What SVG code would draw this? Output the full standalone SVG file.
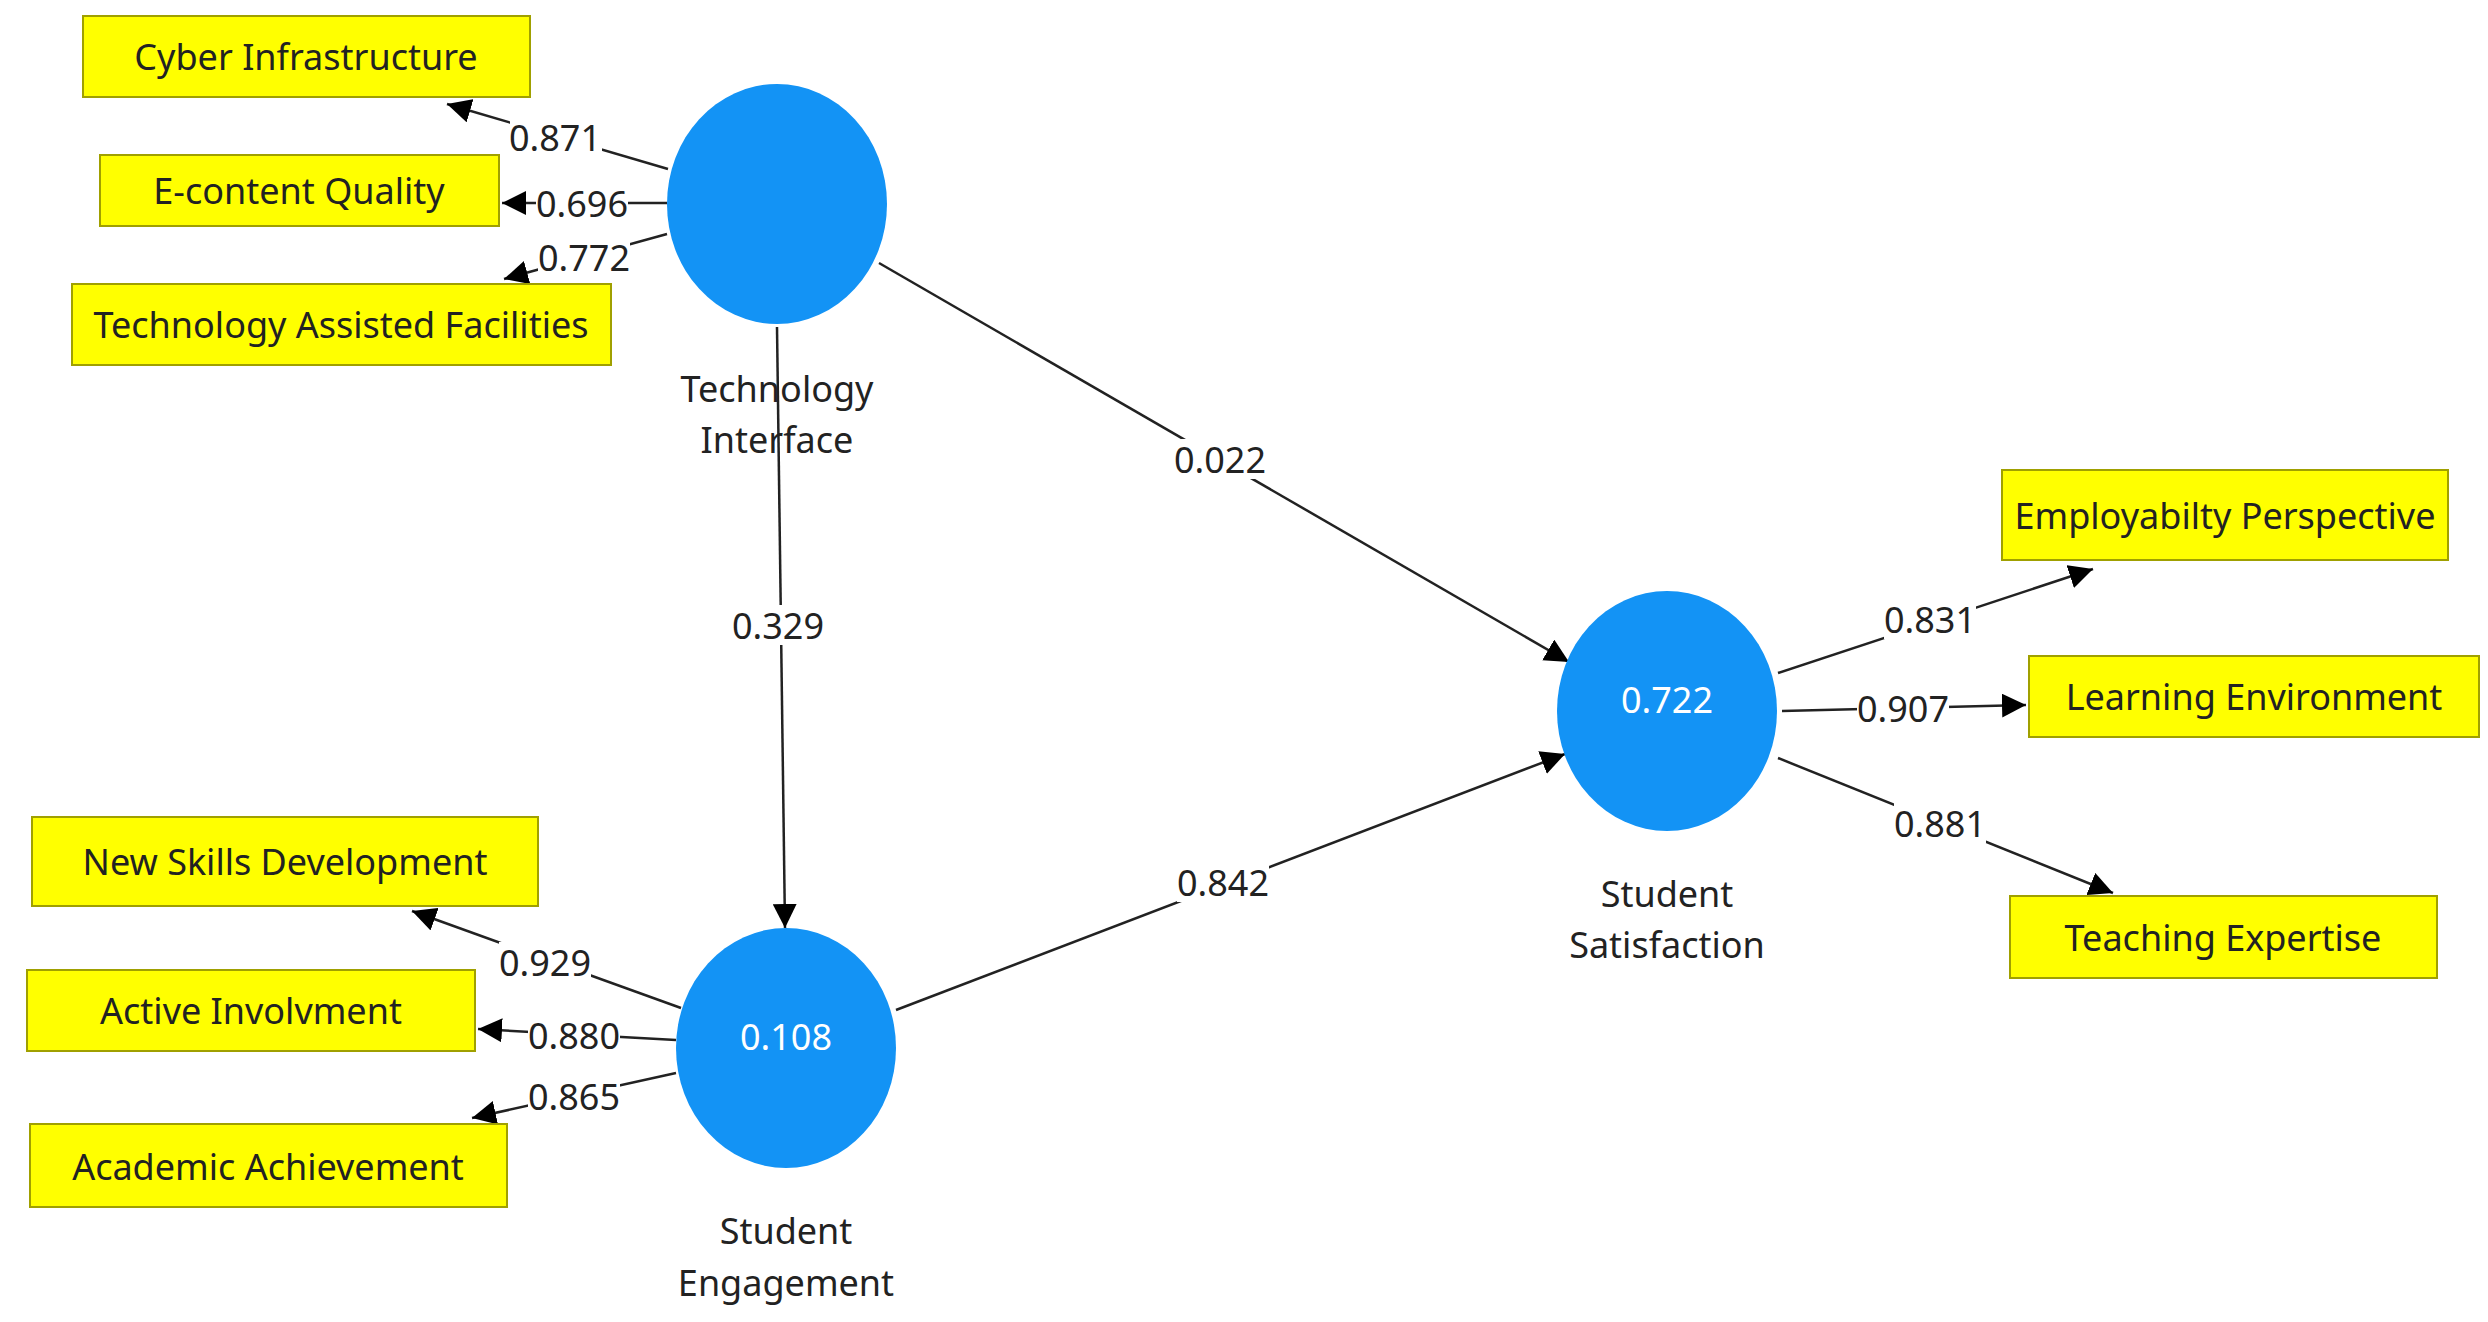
<svg xmlns="http://www.w3.org/2000/svg" width="2488" height="1322" viewBox="0 0 2488 1322">
<defs>
<marker id="ah" viewBox="0 0 10 10" refX="9" refY="5" markerWidth="7" markerHeight="7" markerUnits="userSpaceOnUse" orient="auto"><path d="M0,0L10,5L0,10z" fill="#000"/></marker>
<style>
text{font-family:"Noto Sans","Open Sans",sans-serif;font-size:36px;fill:#222;text-anchor:middle;dominant-baseline:central}
.box{fill:#ffff00;stroke:#a0a000;stroke-width:2}
.c{fill:#1393f5}
.w{fill:#fff}
line{stroke:#222;stroke-width:2.5;marker-end:url(#ah)}
.lb{fill:#fff}
</style>
<marker id="m" viewBox="0 0 10 10" refX="10" refY="5" markerWidth="24" markerHeight="24" markerUnits="userSpaceOnUse" orient="auto"><path d="M0,0L10,5L0,10z" fill="#000"/></marker>
</defs>
<rect width="2488" height="1322" fill="#fff"/>
<g id="connectors">
<g style="marker-end:url(#m)">
<line x1="668" y1="169" x2="447" y2="104" style="marker-end:url(#m)"/>
<line x1="667" y1="203" x2="502" y2="203" style="marker-end:url(#m)"/>
<line x1="667" y1="234" x2="504" y2="279" style="marker-end:url(#m)"/>
<line x1="777" y1="327" x2="785" y2="928" style="marker-end:url(#m)"/>
<line x1="879" y1="263" x2="1569" y2="662" style="marker-end:url(#m)"/>
<line x1="896" y1="1010" x2="1565" y2="754" style="marker-end:url(#m)"/>
<line x1="1778" y1="673" x2="2093" y2="569" style="marker-end:url(#m)"/>
<line x1="1782" y1="711" x2="2026" y2="705" style="marker-end:url(#m)"/>
<line x1="1778" y1="758" x2="2113" y2="893" style="marker-end:url(#m)"/>
<line x1="681" y1="1008" x2="412" y2="911" style="marker-end:url(#m)"/>
<line x1="676" y1="1040" x2="478" y2="1029" style="marker-end:url(#m)"/>
<line x1="676" y1="1073" x2="472" y2="1118" style="marker-end:url(#m)"/>
</g>
<g>
<rect class="lb" x="510" y="117" width="92" height="40"/><text x="555" y="137">0.871</text>
<rect class="lb" x="536" y="183" width="92" height="40"/><text x="582" y="203">0.696</text>
<rect class="lb" x="538" y="237" width="92" height="40"/><text x="584" y="257">0.772</text>
<rect class="lb" x="732" y="605" width="92" height="40"/><text x="778" y="625">0.329</text>
<rect class="lb" x="1174" y="439" width="92" height="40"/><text x="1220" y="459">0.022</text>
<rect class="lb" x="1177" y="862" width="92" height="40"/><text x="1223" y="882">0.842</text>
<rect class="lb" x="1884" y="599" width="92" height="40"/><text x="1930" y="619">0.831</text>
<rect class="lb" x="1857" y="688" width="92" height="40"/><text x="1903" y="708">0.907</text>
<rect class="lb" x="1894" y="803" width="92" height="40"/><text x="1940" y="823">0.881</text>
<rect class="lb" x="499" y="942" width="92" height="40"/><text x="545" y="962">0.929</text>
<rect class="lb" x="528" y="1015" width="92" height="40"/><text x="574" y="1035">0.880</text>
<rect class="lb" x="528" y="1076" width="92" height="40"/><text x="574" y="1096">0.865</text>
</g>
</g>
<g id="ti"><ellipse class="c" cx="777" cy="204" rx="110" ry="120"/><text x="777" y="388">Technology</text><text x="777" y="439">Interface</text></g>
<g id="ss"><ellipse class="c" cx="1667" cy="711" rx="110" ry="120"/><text x="1667" y="699" style="fill:#fff">0.722</text><text x="1667" y="893">Student</text><text x="1667" y="944">Satisfaction</text></g>
<g id="se"><ellipse class="c" cx="786" cy="1048" rx="110" ry="120"/><text x="786" y="1036" style="fill:#fff">0.108</text><text x="786" y="1230">Student</text><text x="786" y="1282">Engagement</text></g>
<g id="cyber"><rect class="box" x="83" y="16" width="447" height="81"/><text x="306" y="56">Cyber Infrastructure</text></g>
<g id="econtent"><rect class="box" x="100" y="155" width="399" height="71"/><text x="299" y="190">E-content Quality</text></g>
<g id="techassist"><rect class="box" x="72" y="284" width="539" height="81"/><text x="341" y="324">Technology Assisted Facilities</text></g>
<g id="newskills"><rect class="box" x="32" y="817" width="506" height="89"/><text x="285" y="861">New Skills Development</text></g>
<g id="active"><rect class="box" x="27" y="970" width="448" height="81"/><text x="251" y="1010">Active Involvment</text></g>
<g id="academic"><rect class="box" x="30" y="1124" width="477" height="83"/><text x="268" y="1166">Academic Achievement</text></g>
<g id="employ"><rect class="box" x="2002" y="470" width="446" height="90"/><text x="2225" y="515">Employabilty Perspective</text></g>
<g id="learning"><rect class="box" x="2029" y="656" width="450" height="81"/><text x="2254" y="696">Learning Environment</text></g>
<g id="teaching"><rect class="box" x="2010" y="896" width="427" height="82"/><text x="2223" y="937">Teaching Expertise</text></g>
</svg>
